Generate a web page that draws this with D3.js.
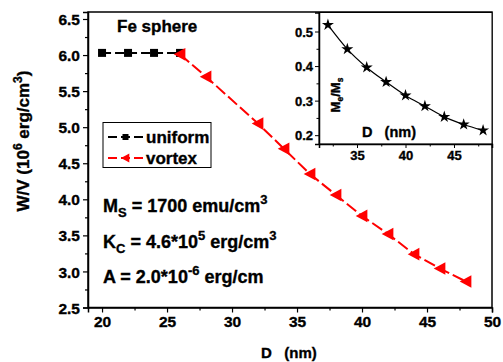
<!DOCTYPE html>
<html>
<head>
<meta charset="utf-8">
<script src="https://cdn.jsdelivr.net/npm/d3@7"></script>
<style>
  html, body { margin: 0; padding: 0; background: #fff; }
  svg { display: block; }
  svg text { font-family: "Liberation Sans", Arial, sans-serif; font-weight: bold; fill: #000; stroke: #000; stroke-width: 0.35px; }
</style>
</head>
<body>
<svg id="chart" width="503" height="362"></svg>
<script>
// Energy density vs. sphere diameter
const uniformD = [20, 22, 24, 26];
const uniformW = [6.03, 6.03, 6.03, 6.03];
const vortexD = [26, 28, 32, 34, 36, 38, 40, 42, 44, 46, 48];
const vortexW = [6.01, 5.70, 5.05, 4.70, 4.35, 4.06, 3.77, 3.52, 3.24, 3.04, 2.86];
// Inset: reduced magnetization vs. diameter
const insetD = [32, 34, 36, 38, 40, 42, 44, 46, 48];
const insetM = [0.519, 0.449, 0.396, 0.354, 0.315, 0.284, 0.253, 0.231, 0.214];

const xTicks = [20, 25, 30, 35, 40, 45, 50];
const yTicks = [2.5, 3.0, 3.5, 4.0, 4.5, 5.0, 5.5, 6.0, 6.5];
const insetXTicks = [35, 40, 45];
const insetYTicks = [0.2, 0.3, 0.4, 0.5];

const svg = d3.select("#chart");
const L = 88, R = 492, T = 12, B = 307.5;

const x = d3.scaleLinear().domain([18.92, 50]).range([L, R]);
const y = d3.scaleLinear().domain([2.5, 6.597]).range([B, T]);

// frame
svg.append("rect").attr("x", L).attr("y", T).attr("width", R - L).attr("height", B - T)
  .attr("fill", "none").attr("stroke", "#000").attr("stroke-width", 1.5);

// bottom axis
const xAxis = svg.append("g").attr("transform", `translate(0,${B})`)
  .call(d3.axisBottom(x).tickValues(xTicks).tickFormat(d3.format("d")).tickSize(5).tickPadding(3));
svg.append("g").attr("transform", `translate(0,${B})`)
  .call(d3.axisBottom(x).tickValues(d3.range(22.5, 50, 5)).tickFormat("").tickSize(3))
  .call(g => g.select(".domain").remove());
// left axis
const yAxis = svg.append("g").attr("transform", `translate(${L},0)`)
  .call(d3.axisLeft(y).tickValues(yTicks).tickFormat(d3.format(".1f")).tickSize(5).tickPadding(3));
svg.append("g").attr("transform", `translate(${L},0)`)
  .call(d3.axisLeft(y).tickValues(d3.range(2.75, 6.5, 0.5)).tickFormat("").tickSize(3))
  .call(g => g.select(".domain").remove());

svg.selectAll(".domain").attr("stroke-width", 1.5);
svg.selectAll(".tick line").attr("stroke-width", 1.2);
xAxis.selectAll("text").attr("font-size", 15.5);
yAxis.selectAll("text").attr("font-size", 15.5).attr("dy", "0.36em");

// axis titles
svg.append("text").attr("x", 261).attr("y", 358).attr("font-size", 15)
  .attr("xml:space", "preserve").text("D   (nm)");
const yt = svg.append("text").attr("transform", "translate(29,141) rotate(-90)")
  .attr("text-anchor", "middle").attr("font-size", 17);
yt.append("tspan").text("W/V  (10");
yt.append("tspan").attr("dy", -7).attr("font-size", 12).text("6");
yt.append("tspan").attr("dy", 7).text(" erg/cm");
yt.append("tspan").attr("dy", -7).attr("font-size", 12).text("3");
yt.append("tspan").attr("dy", 7).text(")");

// data series
const line = d3.line().x(d => x(d[0])).y(d => y(d[1]));
const uni = uniformD.map((d, i) => [d, uniformW[i]]);
const vor = vortexD.map((d, i) => [d, vortexW[i]]);

svg.append("path").datum(uni).attr("d", line).attr("fill", "none")
  .attr("stroke", "#000").attr("stroke-width", 2).attr("stroke-dasharray", "9,4");
svg.append("path").datum(vor).attr("d", line).attr("fill", "none")
  .attr("stroke", "#ff0000").attr("stroke-width", 2).attr("stroke-dasharray", "12,4");

const sq = d3.symbol().type(d3.symbolSquare).size(64);
svg.selectAll(".uni").data(uni).enter().append("path")
  .attr("transform", d => `translate(${x(d[0])},${y(d[1])})`)
  .attr("d", sq).attr("fill", "#000");

const triLeft = (s) => `M${-s},0L${s * 0.85},${-s}L${s * 0.85},${s}Z`;
svg.selectAll(".vor").data(vor).enter().append("path")
  .attr("transform", d => `translate(${x(d[0])},${y(d[1])})`)
  .attr("d", triLeft(6.3)).attr("fill", "#ff0000");

// title
svg.append("text").attr("x", 117).attr("y", 32).attr("font-size", 17).text("Fe sphere");

// legend
const lg = svg.append("g");
lg.append("rect").attr("x", 103).attr("y", 122.5).attr("width", 108).attr("height", 45)
  .attr("fill", "#fff").attr("stroke", "#000").attr("stroke-width", 1);
[["uniform", "#000", 137, "sq"], ["vortex", "#ff0000", 158, "tri"]].forEach(([name, c, yy, m]) => {
  lg.append("line").attr("x1", 108).attr("x2", 143).attr("y1", yy).attr("y2", yy)
    .attr("stroke", c).attr("stroke-width", 2).attr("stroke-dasharray", "9,4");
  if (m === "sq") {
    lg.append("path").attr("transform", `translate(125.5,${yy})`).attr("d", d3.symbol().type(d3.symbolSquare).size(36)).attr("fill", c);
  } else {
    lg.append("path").attr("transform", `translate(125.5,${yy})`).attr("d", triLeft(4.5)).attr("fill", c);
  }
  lg.append("text").attr("x", 146).attr("y", yy + 6).attr("font-size", 17).text(name);
});

// parameter annotations
function annot(yy, parts) {
  const t = svg.append("text").attr("x", 103).attr("y", yy).attr("font-size", 18);
  parts.forEach(([s, kind]) => {
    const sp = t.append("tspan").text(s);
    if (kind === "sub") sp.attr("dy", 5).attr("font-size", 13);
    else if (kind === "sup") sp.attr("dy", -8).attr("font-size", 13);
    else if (kind === "subEnd") sp.attr("dy", -5);
    else if (kind === "supEnd") sp.attr("dy", 8);
  });
}
annot(212, [["M", ""], ["S", "sub"], [" = 1700 emu/cm", "subEnd"], ["3", "sup"]]);
annot(248, [["K", ""], ["C", "sub"], [" = 4.6*10", "subEnd"], ["5", "sup"], [" erg/cm", "supEnd"], ["3", "sup"]]);
annot(283, [["A = 2.0*10", ""], ["-6", "sup"], [" erg/cm", "supEnd"]]);

// inset
const iL = 319, iR = 492, iT = 12.5, iB = 144;
const ix = d3.scaleLinear().domain([31.08, 48.92]).range([iL, iR]);
const iy = d3.scaleLinear().domain([0.1745, 0.555]).range([iB, iT]);
const ins = svg.append("g");
ins.append("rect").attr("x", iL).attr("y", iT).attr("width", iR - iL).attr("height", iB - iT)
  .attr("fill", "#fff").attr("stroke", "#000").attr("stroke-width", 1);
const ixa = ins.append("g").attr("transform", `translate(0,${iB})`)
  .call(d3.axisBottom(ix).tickValues(insetXTicks).tickFormat(d3.format("d")).tickSize(4).tickPadding(3));
ins.append("g").attr("transform", `translate(0,${iB})`)
  .call(d3.axisBottom(ix).tickValues([32.5, 37.5, 42.5, 47.5]).tickFormat("").tickSize(2.5))
  .call(g => g.select(".domain").remove());
const iya = ins.append("g").attr("transform", `translate(${iL},0)`)
  .call(d3.axisLeft(iy).tickValues(insetYTicks).tickFormat(d3.format(".1f")).tickSize(4).tickPadding(2));
ins.append("g").attr("transform", `translate(${iL},0)`)
  .call(d3.axisLeft(iy).tickValues([0.25, 0.35, 0.45]).tickFormat("").tickSize(2.5))
  .call(g => g.select(".domain").remove());
ins.selectAll(".domain").attr("stroke-width", 1.5);
ins.selectAll(".tick line").attr("stroke-width", 1);
ixa.selectAll("text").attr("font-size", 13);
iya.selectAll("text").attr("font-size", 13).attr("dy", "0.36em");

const ipts = insetD.map((d, i) => [d, insetM[i]]);
ins.append("path").datum(ipts)
  .attr("d", d3.line().x(d => ix(d[0])).y(d => iy(d[1])).curve(d3.curveMonotoneX))
  .attr("fill", "none").attr("stroke", "#000").attr("stroke-width", 1.2);
ins.selectAll(".star").data(ipts).enter().append("path")
  .attr("transform", d => `translate(${ix(d[0])},${iy(d[1])})`)
  .attr("d", d3.symbol().type(d3.symbolStar).size(45)).attr("fill", "#000");

ins.append("text").attr("x", 362).attr("y", 137).attr("font-size", 14.5)
  .attr("xml:space", "preserve").text("D   (nm)");
const iyt = ins.append("text").attr("transform", "translate(340,95) rotate(-90)")
  .attr("text-anchor", "middle").attr("font-size", 13);
iyt.append("tspan").text("M");
iyt.append("tspan").attr("dy", 3).attr("font-size", 8.5).text("e");
iyt.append("tspan").attr("dy", -3).text("/M");
iyt.append("tspan").attr("dy", 3).attr("font-size", 8.5).text("s");
</script>
</body>
</html>
